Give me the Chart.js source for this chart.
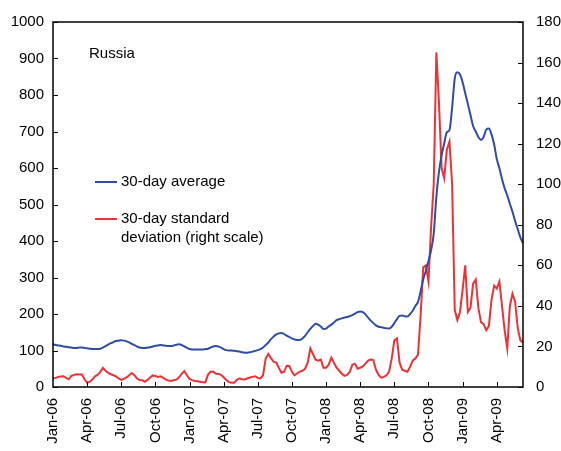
<!DOCTYPE html>
<html>
<head>
<meta charset="utf-8">
<script src="https://cdn.jsdelivr.net/npm/chart.js@4/dist/chart.umd.min.js"></script>
<style>
  html, body { margin: 0; padding: 0; background: #fff; }
  #wrap { width: 561px; height: 451px; }
</style>
</head>
<body>
<div id="wrap"><canvas id="myChart" width="561" height="451"></canvas></div>
<script>
// weekly observations, first week starts 2 Jan 2006
const startDate = new Date(2006, 0, 2);
const weeks = 180;

// quarter labels shown on the x axis (every 13th week)
const tickLabels = ['Jan-06', 'Apr-06', 'Jul-06', 'Oct-06', 'Jan-07', 'Apr-07', 'Jul-07',
  'Oct-07', 'Jan-08', 'Apr-08', 'Jul-08', 'Oct-08', 'Jan-09', 'Apr-09'];

// 30-day average (left scale)
const avg30 = [
  117, 115, 114, 113, 111, 110, 109, 108, 107, 107,
  108, 108, 107, 106, 105, 104, 104, 104, 105, 108,
  112, 116, 120, 123, 126, 127, 128, 127, 125, 122,
  118, 115, 111, 108, 107, 107, 108, 109, 111, 113,
  114, 115, 114, 113, 112, 112, 114, 116, 117, 115,
  111, 107, 104, 103, 103, 103, 103, 103, 104, 105,
  108, 111, 112, 111, 108, 104, 101, 100, 100, 99,
  98, 97, 95, 94, 94, 95, 97, 99, 101, 104,
  108, 115, 122, 131, 138, 144, 147, 148, 145, 141,
  137, 133, 130, 129, 129, 133, 140, 150, 159, 167,
  173, 171, 166, 159, 160, 166, 171, 177, 183, 186,
  188, 190, 192, 194, 197, 201, 205, 207, 205, 199,
  190, 182, 175, 169, 165, 164, 162, 161, 160, 165,
  175, 186, 195, 196, 194, 193, 200, 209, 222, 233,
  262, 295, 318, 345, 375, 420, 520, 590, 635, 668,
  698, 704, 765, 845, 862, 856, 835, 805, 775, 745,
  715, 700, 685, 677, 685, 705, 708, 692, 665, 625,
  600, 570, 545, 525, 502, 480, 455, 432, 410, 394
];

// 30-day standard deviation (right scale)
const std30 = [
  4.2, 4.5, 5.0, 5.2, 5.3, 4.5, 3.8, 5.5, 6.0, 6.3,
  6.2, 6.2, 3.8, 2.2, 2.5, 3.8, 5.3, 6.0, 7.5, 9.4,
  8.0, 7.0, 6.3, 5.8, 5.2, 4.2, 3.5, 4.0, 4.7, 5.8,
  6.9, 5.8, 4.2, 3.4, 3.3, 2.6, 3.5, 4.7, 5.7, 5.4,
  5.0, 5.3, 4.5, 3.6, 3.2, 3.0, 3.3, 3.6, 4.8, 6.5,
  7.8, 5.8, 4.0, 3.4, 3.0, 2.8, 2.6, 2.4, 2.3, 6.0,
  7.5, 7.6, 6.6, 6.4, 6.0, 4.8, 3.5, 2.4, 2.1, 2.1,
  3.5, 4.2, 3.8, 3.7, 4.2, 4.7, 5.0, 5.3, 4.5, 4.2,
  5.8, 14.0, 16.3, 14.2, 12.5, 12.0, 9.5, 7.0, 7.5, 10.5,
  10.4, 7.5, 5.8, 6.8, 7.6, 8.0, 9.0, 12.0, 19.0, 16.3,
  13.5, 13.0, 13.5, 9.5, 9.5, 11.0, 14.5, 12.0, 9.5, 8.0,
  6.5, 5.5, 6.0, 7.4, 11.0, 11.5, 9.0, 9.5, 10.1, 11.5,
  13.0, 13.5, 13.3, 8.5, 6.0, 4.6, 5.0, 5.8, 7.5, 14.0,
  23.0, 24.0, 12.0, 8.5, 8.0, 7.5, 10.0, 13.0, 14.0, 16.0,
  35.0, 59.0, 60.0, 52.0, 79.0, 100.0, 165.0, 140.0, 108.0, 103.0,
  117.0, 121.0, 100.0, 38.0, 33.0, 37.0, 48.0, 60.0, 37.0, 39.0,
  51.0, 53.0, 39.0, 32.0, 31.0, 28.0, 30.0, 43.0, 50.0, 48.5,
  52.0, 40.0, 28.0, 19.0, 40.0, 46.0, 42.0, 29.0, 23.0, 22.0
];

const categories = [];
for (let i = 0; i < weeks; i++) {
  const d = new Date(startDate.getTime());
  d.setDate(d.getDate() + 7 * i);
  categories.push(d.toISOString().slice(0, 10));
}

const blue = '#2f4ea2';
const red = '#ee3136';
const font = { family: '"Liberation Sans", Arial, sans-serif', size: 15 };

// frame, inward tick marks, title and legend
const decor = {
  id: 'decor',
  afterDatasetsDraw(chart) {
    const ctx = chart.ctx;
    const a = chart.chartArea;
    const x = chart.scales.x, yL = chart.scales.y, yR = chart.scales.y1;
    ctx.save();
    ctx.strokeStyle = '#000';
    ctx.lineWidth = 1;
    ctx.beginPath();
    yL.ticks.forEach(t => {
      const py = Math.round(yL.getPixelForValue(t.value)) + 0.5;
      ctx.moveTo(a.left, py); ctx.lineTo(a.left + 5, py);
    });
    yR.ticks.forEach(t => {
      const py = Math.round(yR.getPixelForValue(t.value)) + 0.5;
      ctx.moveTo(a.right - 5, py); ctx.lineTo(a.right, py);
    });
    for (let i = 13; i < weeks; i += 13) {
      const px = Math.round(x.getPixelForValue(i)) + 0.5;
      ctx.moveTo(px, a.bottom); ctx.lineTo(px, a.bottom - 5);
    }
    ctx.stroke();
    ctx.lineWidth = 1.5;
    ctx.strokeRect(a.left, a.top, a.right - a.left, a.bottom - a.top);

    ctx.fillStyle = '#000';
    ctx.font = '15px "Liberation Sans", Arial, sans-serif';
    ctx.textBaseline = 'middle';
    ctx.textAlign = 'left';
    ctx.fillText('Russia', a.left + 36, a.top + 32);

    const legendLines = [['30-day average'], ['30-day standard', 'deviation (right scale)']];
    const rows = [a.top + 160, a.top + 197];
    chart.data.datasets.forEach((ds, k) => {
      ctx.strokeStyle = ds.borderColor;
      ctx.lineWidth = 2;
      ctx.beginPath();
      ctx.moveTo(a.left + 42, rows[k]);
      ctx.lineTo(a.left + 64, rows[k]);
      ctx.stroke();
      legendLines[k].forEach((s, j) => ctx.fillText(s, a.left + 68, rows[k] + j * 19));
    });
    ctx.restore();
  }
};

const ctx = document.getElementById('myChart');
const myChart = new Chart(ctx, {
  type: 'line',
  data: {
    labels: categories,
    datasets: [{
      label: '30-day average',
      data: avg30,
      yAxisID: 'y',
      borderColor: blue,
      borderWidth: 2,
      pointRadius: 0,
      cubicInterpolationMode: 'monotone'
    }, {
      label: '30-day standard deviation (right scale)',
      data: std30,
      yAxisID: 'y1',
      borderColor: red,
      borderWidth: 2,
      pointRadius: 0,
      tension: 0
    }]
  },
  options: {
    responsive: false,
    animation: false,
    devicePixelRatio: 1,
    layout: { padding: { top: 14, left: 0, right: 0, bottom: 0 } },
    plugins: { legend: { display: false }, tooltip: { enabled: false } },
    scales: {
      x: {
        type: 'category',
        offset: false,
        grid: { display: false, drawTicks: false },
        border: { display: false },
        afterFit(s) { s.height = 64; },
        ticks: {
          autoSkip: false,
          minRotation: 90,
          maxRotation: 90,
          padding: 11,
          color: '#000',
          font: font,
          callback(value, index) {
            return index % 13 === 0 ? tickLabels[index / 13] : null;
          }
        }
      },
      y: {
        position: 'left',
        min: 0,
        max: 1000,
        grid: { display: false, drawTicks: false },
        border: { display: false },
        afterFit(s) { s.width = 53; },
        ticks: { stepSize: 100, padding: 9, color: '#000', font: font, callback: v => String(v) }
      },
      y1: {
        position: 'right',
        min: 0,
        max: 180,
        grid: { display: false, drawTicks: false },
        border: { display: false },
        afterFit(s) { s.width = 38; },
        ticks: { stepSize: 20, padding: 13, color: '#000', font: font, callback: v => String(v) }
      }
    }
  },
  plugins: [decor]
});
</script>
</body>
</html>
